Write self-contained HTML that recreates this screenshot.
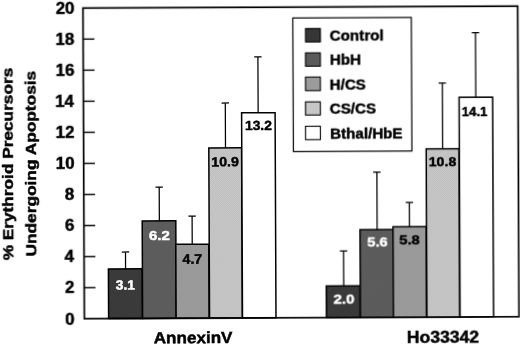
<!DOCTYPE html>
<html><head><meta charset="utf-8"><title>Chart</title>
<style>
html,body{margin:0;padding:0;background:#fff;}
body{width:520px;height:346px;overflow:hidden;}
svg{display:block;}
text{font-family:"Liberation Sans",sans-serif;font-weight:bold;stroke-width:0.45px;stroke-linejoin:round;}
text[fill="#000"]{stroke:#000;}
text[fill="#fff"]{stroke:#fff;}
</style></head><body>
<svg width="520" height="346" viewBox="0 0 520 346">
<defs><filter id="soft" x="-5%" y="-5%" width="110%" height="110%" color-interpolation-filters="sRGB"><feGaussianBlur stdDeviation="0.2"/></filter>
<pattern id="dither" width="2" height="2" patternUnits="userSpaceOnUse"><rect x="0" y="0" width="1" height="1" fill="#fff" fill-opacity="0.05"/><rect x="1" y="1" width="1" height="1" fill="#fff" fill-opacity="0.05"/><rect x="1" y="0" width="1" height="1" fill="#000" fill-opacity="0.05"/><rect x="0" y="1" width="1" height="1" fill="#000" fill-opacity="0.05"/></pattern></defs>
<rect x="0" y="0" width="520" height="346" fill="#fff"/>
<g filter="url(#soft)"><g transform="rotate(-0.25 260 173)">
<path d="M125.16 268.34V251.41M121.46 251.41H128.86" stroke="#000" stroke-width="1.25" fill="none"/>
<rect x="107.98" y="268.34" width="33.80" height="49.56" fill="#363636"/>
<rect x="107.98" y="268.34" width="33.80" height="49.56" fill="url(#dither)"/>
<rect x="107.98" y="268.34" width="33.80" height="49.56" fill="none" stroke="#000" stroke-width="1.5"/>
<text transform="translate(115.36 288.92) scale(1.0405 1)" font-size="13.26" fill="#fff">3.1</text>
<path d="M159.14 220.49V186.66M155.44 186.66H162.84" stroke="#000" stroke-width="1.25" fill="none"/>
<rect x="141.99" y="220.49" width="33.60" height="97.41" fill="#5a5a5a"/>
<rect x="141.99" y="220.49" width="33.60" height="97.41" fill="url(#dither)"/>
<rect x="141.99" y="220.49" width="33.60" height="97.41" fill="none" stroke="#000" stroke-width="1.5"/>
<text transform="translate(148.64 239.48) scale(1.1587 1)" font-size="12.99" fill="#fff">6.2</text>
<path d="M191.91 243.93V215.80M188.21 215.80H195.61" stroke="#000" stroke-width="1.25" fill="none"/>
<rect x="175.49" y="243.93" width="33.00" height="73.97" fill="#9b9b9b"/>
<rect x="175.49" y="243.93" width="33.00" height="73.97" fill="url(#dither)"/>
<rect x="175.49" y="243.93" width="33.00" height="73.97" fill="none" stroke="#000" stroke-width="1.5"/>
<text transform="translate(182.16 263.35) scale(1.0303 1)" font-size="13.66" fill="#000">4.7</text>
<path d="M225.61 147.78V102.85M221.91 102.85H229.31" stroke="#000" stroke-width="1.25" fill="none"/>
<rect x="208.91" y="147.78" width="32.80" height="170.12" fill="#c7c7c7"/>
<rect x="208.91" y="147.78" width="32.80" height="170.12" fill="url(#dither)"/>
<rect x="208.91" y="147.78" width="32.80" height="170.12" fill="none" stroke="#000" stroke-width="1.5"/>
<text transform="translate(211.32 166.17) scale(1.0678 1)" font-size="13.28" fill="#000">10.9</text>
<path d="M258.41 112.72V56.79M254.71 56.79H262.11" stroke="#000" stroke-width="1.25" fill="none"/>
<rect x="241.86" y="112.72" width="33.50" height="205.18" fill="#ffffff"/>
<rect x="241.86" y="112.72" width="33.50" height="205.18" fill="none" stroke="#000" stroke-width="1.5"/>
<text transform="translate(245.10 130.00) scale(1.0578 1)" font-size="13.12" fill="#000">13.2</text>
<path d="M343.26 286.29V251.46M339.56 251.46H346.96" stroke="#000" stroke-width="1.25" fill="none"/>
<rect x="325.81" y="286.29" width="33.70" height="31.61" fill="#363636"/>
<rect x="325.81" y="286.29" width="33.70" height="31.61" fill="url(#dither)"/>
<rect x="325.81" y="286.29" width="33.70" height="31.61" fill="none" stroke="#000" stroke-width="1.5"/>
<text transform="translate(332.89 303.58) scale(1.1454 1)" font-size="13.14" fill="#fff">2.0</text>
<path d="M376.90 230.14V172.51M373.20 172.51H380.60" stroke="#000" stroke-width="1.25" fill="none"/>
<rect x="359.75" y="230.14" width="33.00" height="87.76" fill="#5a5a5a"/>
<rect x="359.75" y="230.14" width="33.00" height="87.76" fill="url(#dither)"/>
<rect x="359.75" y="230.14" width="33.00" height="87.76" fill="none" stroke="#000" stroke-width="1.5"/>
<text transform="translate(367.11 247.43) scale(1.1032 1)" font-size="13.14" fill="#fff">5.6</text>
<path d="M409.27 227.38V203.15M405.57 203.15H412.97" stroke="#000" stroke-width="1.25" fill="none"/>
<rect x="392.76" y="227.38" width="33.20" height="90.52" fill="#9b9b9b"/>
<rect x="392.76" y="227.38" width="33.20" height="90.52" fill="url(#dither)"/>
<rect x="392.76" y="227.38" width="33.20" height="90.52" fill="none" stroke="#000" stroke-width="1.5"/>
<text transform="translate(398.91 244.67) scale(1.1276 1)" font-size="13.14" fill="#000">5.8</text>
<path d="M442.69 149.63V83.80M438.99 83.80H446.39" stroke="#000" stroke-width="1.25" fill="none"/>
<rect x="426.30" y="149.63" width="32.90" height="168.27" fill="#c7c7c7"/>
<rect x="426.30" y="149.63" width="32.90" height="168.27" fill="url(#dither)"/>
<rect x="426.30" y="149.63" width="32.90" height="168.27" fill="none" stroke="#000" stroke-width="1.5"/>
<text transform="translate(428.72 166.72) scale(1.0799 1)" font-size="13.14" fill="#000">10.8</text>
<path d="M476.11 98.17V33.74M472.41 33.74H479.81" stroke="#000" stroke-width="1.25" fill="none"/>
<rect x="459.43" y="98.17" width="33.50" height="219.73" fill="#ffffff"/>
<rect x="459.43" y="98.17" width="33.50" height="219.73" fill="none" stroke="#000" stroke-width="1.5"/>
<text transform="translate(462.00 116.89) scale(0.9656 1)" font-size="13.66" fill="#000">14.1</text>
<rect x="83.7" y="7.3" width="434.70" height="310.60" fill="none" stroke="#000" stroke-width="1.7"/>
<text transform="translate(64.48 324.26) scale(1.0700 1)" font-size="15.82" fill="#000">0</text>
<line x1="83.7" y1="286.84" x2="95.0" y2="286.84" stroke="#000" stroke-width="1.4"/>
<text transform="translate(64.60 292.40) scale(1.0700 1)" font-size="15.82" fill="#000">2</text>
<line x1="83.7" y1="255.78" x2="95.0" y2="255.78" stroke="#000" stroke-width="1.4"/>
<text transform="translate(64.16 261.34) scale(1.0700 1)" font-size="15.82" fill="#000">4</text>
<line x1="83.7" y1="224.72" x2="95.0" y2="224.72" stroke="#000" stroke-width="1.4"/>
<text transform="translate(64.80 230.28) scale(1.0700 1)" font-size="15.82" fill="#000">6</text>
<line x1="83.7" y1="193.66" x2="95.0" y2="193.66" stroke="#000" stroke-width="1.4"/>
<text transform="translate(64.85 199.22) scale(1.0700 1)" font-size="15.82" fill="#000">8</text>
<line x1="83.7" y1="162.60" x2="95.0" y2="162.60" stroke="#000" stroke-width="1.4"/>
<text transform="translate(55.75 168.14) scale(1.0700 1)" font-size="15.82" fill="#000">10</text>
<line x1="83.7" y1="131.54" x2="95.0" y2="131.54" stroke="#000" stroke-width="1.4"/>
<text transform="translate(55.87 137.08) scale(1.0700 1)" font-size="15.82" fill="#000">12</text>
<line x1="83.7" y1="100.48" x2="95.0" y2="100.48" stroke="#000" stroke-width="1.4"/>
<text transform="translate(55.43 106.02) scale(1.0700 1)" font-size="15.82" fill="#000">14</text>
<line x1="83.7" y1="69.42" x2="95.0" y2="69.42" stroke="#000" stroke-width="1.4"/>
<text transform="translate(56.07 74.96) scale(1.0700 1)" font-size="15.82" fill="#000">16</text>
<line x1="83.7" y1="38.36" x2="95.0" y2="38.36" stroke="#000" stroke-width="1.4"/>
<text transform="translate(56.12 43.90) scale(1.0700 1)" font-size="15.82" fill="#000">18</text>
<text transform="translate(56.43 12.84) scale(1.0700 1)" font-size="15.82" fill="#000">20</text>
<text transform="translate(152.92 342.86) scale(1.0605 1)" font-size="16.13" fill="#000">AnnexinV</text>
<text transform="translate(406.17 343.55) scale(1.0983 1)" font-size="15.99" fill="#000">Ho33342</text>
<text transform="translate(12.99 259.37) rotate(-90) scale(1.2002 1)" font-size="14.39" fill="#000">% Erythroid Precursors</text>
<text transform="translate(36.19 255.59) rotate(-90) scale(1.2038 1)" font-size="14.39" fill="#000">Undergoing Apoptosis</text>
<rect x="293.48" y="18.14" width="118.52" height="133.52" fill="#fff" stroke="#000" stroke-width="1.2"/>
<rect x="306.13" y="28.80" width="14.84" height="13.36" fill="#363636" stroke="#000" stroke-width="1.1"/>
<text transform="translate(330.33 41.12) scale(1.0240 1)" font-size="14.83" fill="#000">Control</text>
<rect x="306.02" y="53.10" width="14.84" height="13.36" fill="#5a5a5a" stroke="#000" stroke-width="1.1"/>
<text transform="translate(330.14 65.32) scale(1.0488 1)" font-size="14.53" fill="#000">HbH</text>
<rect x="305.92" y="77.30" width="14.84" height="13.56" fill="#9b9b9b" stroke="#000" stroke-width="1.1"/>
<text transform="translate(330.04 89.59) scale(1.0413 1)" font-size="14.55" fill="#000">H/CS</text>
<rect x="305.81" y="102.10" width="14.84" height="13.16" fill="#c7c7c7" stroke="#000" stroke-width="1.1"/>
<text transform="translate(330.01 114.21) scale(1.0241 1)" font-size="14.83" fill="#000">CS/CS</text>
<rect x="305.70" y="126.50" width="14.84" height="13.36" fill="#ffffff" stroke="#000" stroke-width="1.1"/>
<text transform="translate(330.22 138.82) scale(1.0350 1)" font-size="14.68" fill="#000">Bthal/HbE</text>
</g></g></svg></body></html>
